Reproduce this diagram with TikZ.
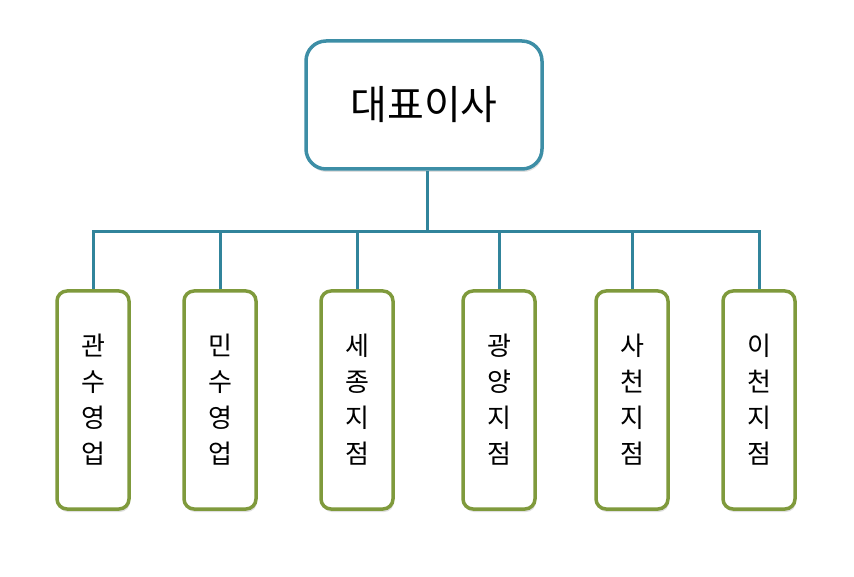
\documentclass[tikz,border=0pt]{standalone}
\usepackage{fontspec}
\setmainfont{Noto Sans CJK KR}
\definecolor{bossline}{HTML}{3D8EA6}
\definecolor{linkline}{HTML}{31849B}
\definecolor{unitline}{HTML}{7F9A3C}
\usetikzlibrary{positioning,shadows}

\begin{document}
\begin{tikzpicture}[x=1pt,y=-1pt,
  boss/.style={draw=bossline,line width=3.5pt,rounded corners=20pt,fill=white,minimum width=236pt,minimum height=128pt,font=\fontsize{40}{44}\selectfont,drop shadow={opacity=0.25,shadow xshift=1pt,shadow yshift=-3pt}},
  unit/.style={draw=unitline,line width=3.5pt,rounded corners=10pt,fill=white,minimum width=72pt,minimum height=218pt,align=center,font=\fontsize{26}{36}\selectfont,drop shadow={opacity=0.25,shadow xshift=1pt,shadow yshift=-3pt}},
  link/.style={draw=linkline,line width=3pt}]
  \useasboundingbox (0,0) rectangle (854,577);
  % top
  \node[boss] (ceo) at (424,105) {대표이사};
  \coordinate (bus) at (427,232);
  % branches
  \node[unit] (u1) at (93,400) {관\\수\\영\\업};
  \node[unit] (u2) at (220,400) {민\\수\\영\\업};
  \node[unit] (u3) at (357,400) {세\\종\\지\\점};
  \node[unit] (u4) at (499,400) {광\\양\\지\\점};
  \node[unit] (u5) at (632,400) {사\\천\\지\\점};
  \node[unit] (u6) at (759,400) {이\\천\\지\\점};
  \draw[link] (ceo.south -| bus) -- (bus);
  \foreach \i in {1,...,6}
    \draw[link] (bus) -| (u\i.north);
\end{tikzpicture}
\end{document}
